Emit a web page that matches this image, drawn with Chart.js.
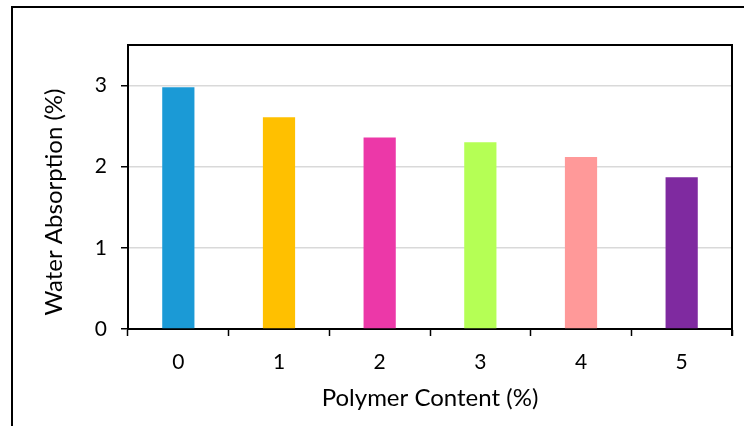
<!DOCTYPE html>
<html>
<head>
<meta charset="utf-8">
<script src="https://cdn.jsdelivr.net/npm/chart.js@4.4.1/dist/chart.umd.min.js"></script>
<style>
  html, body { margin: 0; padding: 0; background: #fff; }
  #wrap { width: 744px; height: 426px; position: relative; }
</style>
</head>
<body>
<div id="wrap"><canvas id="chart" width="744" height="426"></canvas></div>
<script>
// Polymer content (%) categories and measured water absorption (%)
const categories = ['0', '1', '2', '3', '4', '5'];
const absorption = [2.98, 2.61, 2.36, 2.30, 2.12, 1.87];
const barColors = ['#1B9AD6', '#FFC000', '#EC38A8', '#B5FF55', '#FF9999', '#7F2AA0'];
const yTicks = [0, 1, 2, 3];
const xTitle = 'Polymer Content (%)';
const yTitle = 'Water Absorption (%)';

const FONT = 'Lato, "Open Sans", sans-serif';

// Outer frame, the top/right edges of the plot box and the vertical axis title
const framePlugin = {
  id: 'frame',
  beforeDraw(chart) {
    const ctx = chart.ctx;
    ctx.save();
    ctx.fillStyle = '#fff';
    ctx.fillRect(0, 0, chart.width, chart.height);
    ctx.strokeStyle = '#000';
    ctx.lineWidth = 2;
    ctx.beginPath();
    ctx.moveTo(12, chart.height + 2);
    ctx.lineTo(12, 7);
    ctx.lineTo(chart.width + 2, 7);
    ctx.stroke();
    ctx.restore();
  },
  afterDraw(chart) {
    const a = chart.chartArea;
    const ctx = chart.ctx;
    ctx.save();
    ctx.strokeStyle = '#000';
    ctx.lineWidth = 2;
    ctx.beginPath();
    ctx.moveTo(a.left, a.top);
    ctx.lineTo(a.right, a.top);
    ctx.lineTo(a.right, a.bottom + 7);
    ctx.stroke();

    ctx.translate(54, 202);
    ctx.rotate(-Math.PI / 2);
    ctx.fillStyle = '#000';
    ctx.font = '24px ' + FONT;
    ctx.textAlign = 'center';
    ctx.textBaseline = 'middle';
    ctx.fillText(yTitle, 0, 0);
    ctx.restore();
  }
};

new Chart(document.getElementById('chart'), {
  type: 'bar',
  data: {
    labels: categories,
    datasets: [{
      data: absorption,
      backgroundColor: barColors,
      borderWidth: 0,
      barPercentage: 0.32,
      categoryPercentage: 1.0
    }]
  },
  options: {
    responsive: false,
    animation: false,
    devicePixelRatio: 1,
    layout: { padding: { left: 0, top: 45, right: 12, bottom: 0 } },
    plugins: {
      legend: { display: false },
      tooltip: { enabled: false }
    },
    scales: {
      x: {
        offset: true,
        grid: {
          offset: true,
          drawOnChartArea: false,
          drawTicks: true,
          tickLength: 7,
          tickColor: '#000',
          tickWidth: 1.5
        },
        border: { color: '#000', width: 2 },
        ticks: {
          color: '#000',
          padding: 14,
          font: { family: FONT, size: 21 },
          maxRotation: 0
        },
        title: {
          display: true,
          text: xTitle,
          color: '#000',
          font: { family: FONT, size: 24 },
          padding: { top: 10, bottom: 13 }
        },
        afterFit(scale) { scale.height = 97; }
      },
      y: {
        min: 0,
        max: 3.5,
        afterBuildTicks(scale) {
          scale.ticks = yTicks.map(v => ({ value: v }));
        },
        grid: {
          color: (c) => (c.tick && c.tick.value === 0 ? 'rgba(0,0,0,0)' : '#D9D9D9'),
          lineWidth: 1.5,
          drawTicks: true,
          tickLength: 7,
          tickColor: '#000',
          tickWidth: 1.5
        },
        border: { color: '#000', width: 2 },
        ticks: {
          color: '#000',
          padding: 14,
          font: { family: FONT, size: 21 }
        },
        afterFit(scale) { scale.width = 128; }
      }
    }
  },
  plugins: [framePlugin]
});
</script>
</body>
</html>
